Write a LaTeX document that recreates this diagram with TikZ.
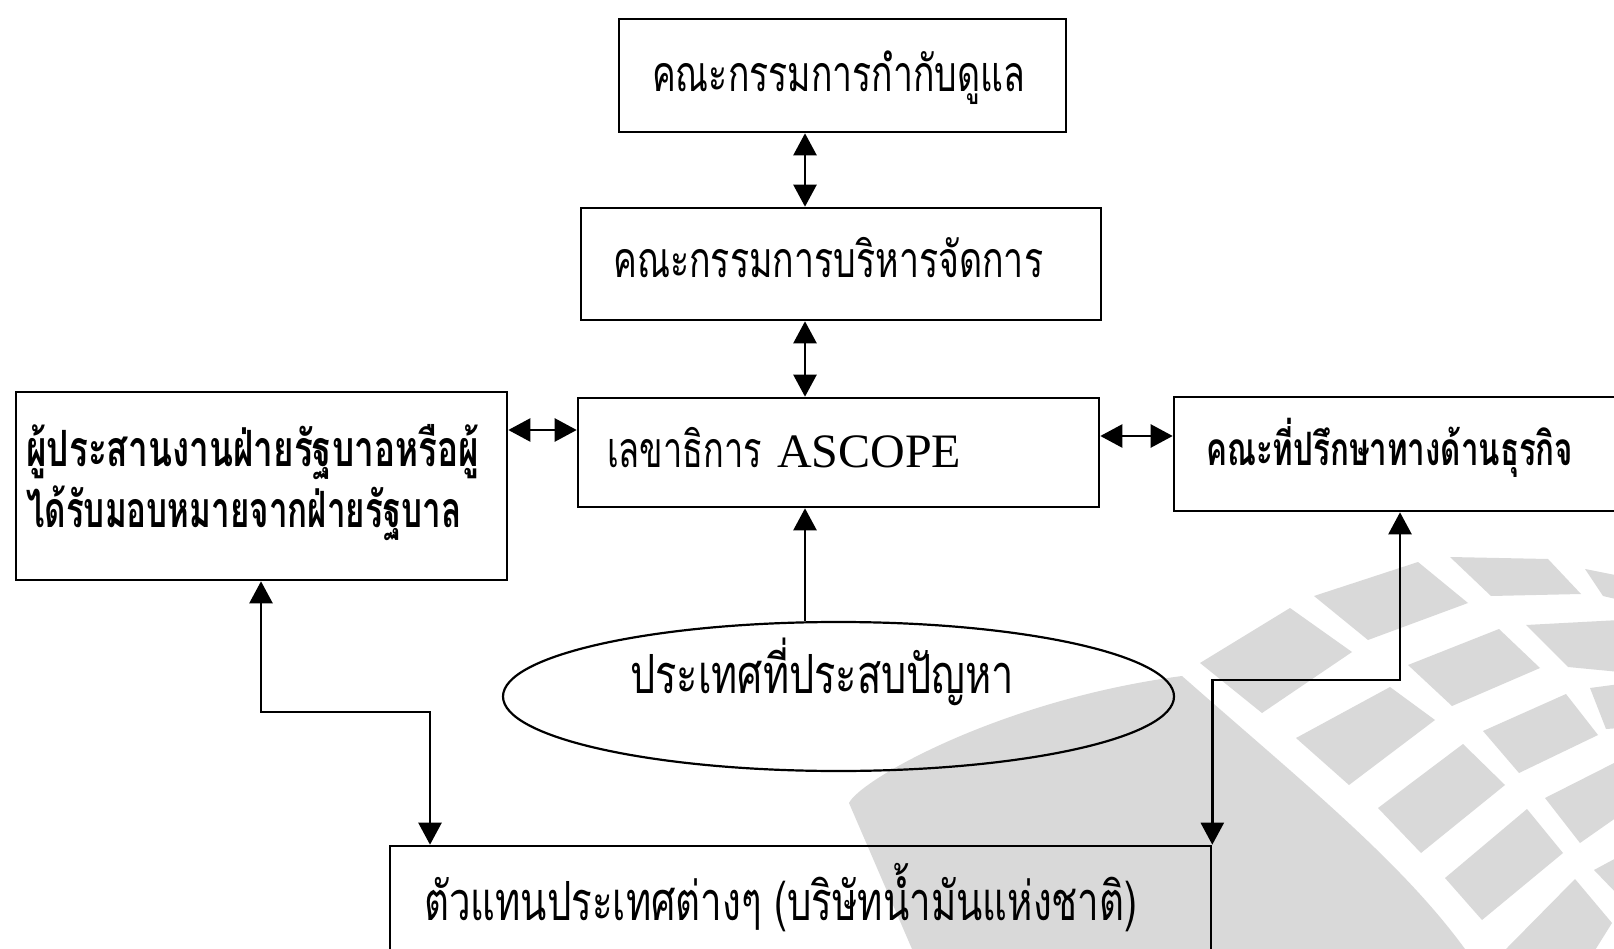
\documentclass[tikz,border=0pt]{standalone}
\usepackage{fontspec}
\usepackage{graphicx}
\usetikzlibrary{arrows.meta,shapes.geometric}
\setmainfont{Liberation Serif}
\newfontfamily\thaifont[Script=Thai]{Loma}
\definecolor{wm}{RGB}{217,217,217}
\newcommand{\fit}[2]{\resizebox{#1}{\height}{#2}}
\begin{document}
\begin{tikzpicture}[x=1pt,y=-1pt,
  box/.style={draw,line width=2.6pt,rectangle,inner sep=0pt},
  oval/.style={draw,line width=2.2pt,ellipse,inner sep=0pt},
  lbl/.style={anchor=base west,inner sep=0pt},
  dbl/.style={line width=2.4pt,{Triangle[length=22pt,width=23pt]}-{Triangle[length=22pt,width=23pt]}},
  sgl/.style={line width=2.4pt,-{Triangle[length=22pt,width=23pt]}},
  cell/.style={fill=wm,draw=none}]
\useasboundingbox (0,0) rectangle (1614,949);
\clip (0,0) rectangle (1614,949);
\fill[white] (0,0) rectangle (1614,949);
% watermark
\fill[wm] (912,949) -- (849,803) .. controls (860,780) and (1000,700) .. (1182,676)
  .. controls (1300,780) and (1400,860) .. (1465,949) -- cycle;
\fill[wm] (1200,663) -- (1290,608) -- (1352,652) -- (1262,713) -- cycle;
\fill[wm] (1314,596) -- (1418,562) -- (1468,603) -- (1368,640) -- cycle;
\fill[wm] (1450,557) -- (1548,559) -- (1581,594) -- (1491,596) -- cycle;
\fill[wm] (1585,569) -- (1620,576) -- (1620,600) -- (1603,596) -- cycle;
\fill[wm] (1296,738) -- (1390,687) -- (1435,720) -- (1349,785) -- cycle;
\fill[wm] (1408,665) -- (1499,629) -- (1540,668) -- (1452,706) -- cycle;
\fill[wm] (1526,625) -- (1620,620) -- (1620,672) -- (1568,667) -- cycle;
\fill[wm] (1378,808) -- (1463,744) -- (1505,785) -- (1421,853) -- cycle;
\fill[wm] (1483,731) -- (1566,694) -- (1598,735) -- (1519,773) -- cycle;
\fill[wm] (1590,688) -- (1620,684) -- (1620,728) -- (1606,729) -- cycle;
\fill[wm] (1445,878) -- (1527,809) -- (1563,853) -- (1482,920) -- cycle;
\fill[wm] (1545,798) -- (1620,760) -- (1620,815) -- (1580,843) -- cycle;
\fill[wm] (1506,949) -- (1575,879) -- (1612,923) -- (1592,955) -- cycle;
\fill[wm] (1594,870) -- (1620,856) -- (1620,897) -- cycle;
% boxes
\node[box,minimum width=447pt,minimum height=113pt] (T) at (842.5,75.5) {};
\node[box,minimum width=520pt,minimum height=112pt] (M) at (841,264) {};
\node[box,minimum width=521pt,minimum height=109pt] (A) at (838.5,452.5) {};
\node[box,minimum width=491pt,minimum height=188pt] (L) at (261.5,486) {};
\node[box,minimum width=526pt,minimum height=114pt] (R) at (1437,454) {};
\node[oval,minimum width=671pt,minimum height=149pt] (E) at (838.5,696.5) {};
\node[box,minimum width=821pt,minimum height=154pt] (B) at (800.5,923) {};
% texts
\node[lbl] (tT) at (652,92) {\thaifont\fontsize{50}{56}\selectfont\fit{373pt}{คณะกรรมการกำกับดูแล}};
\node[lbl] (tM) at (613,278) {\thaifont\fontsize{50}{56}\selectfont\fit{430pt}{คณะกรรมการบริหารจัดการ}};
\node[lbl] (tA) at (607,467) {\thaifont\fontsize{50}{56}\selectfont\fit{155pt}{เลขาธิการ}};
\node[lbl] (tA2) at (777,467) {\fontsize{48}{52}\selectfont ASCOPE};
\node[lbl] (tL1) at (26,466) {\thaifont\bfseries\fontsize{50}{56}\selectfont\fit{453pt}{ผู้ประสานงานฝ่ายรัฐบาอหรือผู้}};
\node[lbl] (tL2) at (26,527) {\thaifont\bfseries\fontsize{50}{56}\selectfont\fit{435pt}{ได้รับมอบหมายจากฝ่ายรัฐบาล}};
\node[lbl] (tR) at (1206,465) {\thaifont\bfseries\fontsize{46}{52}\selectfont\fit{367pt}{คณะที่ปรึกษาทางด้านธุรกิจ}};
\node[lbl] (tE) at (630,693) {\thaifont\fontsize{54}{60}\selectfont\fit{384pt}{ประเทศที่ประสบปัญหา}};
\node[lbl] (tB) at (424,920) {\thaifont\fontsize{54}{60}\selectfont\fit{713pt}{ตัวแทนประเทศต่างๆ (บริษัทน้ำมันแห่งชาติ)}};
% connectors
\coordinate (c1) at (805,0);
\draw[dbl] (T.south -| c1) -- (M.north -| c1);
\draw[dbl] (M.south -| c1) -- (A.north -| c1);
\draw[sgl] (E.north -| c1) -- (A.south -| c1);
\coordinate (h1) at (0,430);
\draw[dbl] (L.east |- h1) -- (A.west |- h1);
\coordinate (h2) at (0,436);
\draw[dbl] (A.east |- h2) -- (R.west |- h2);
\coordinate (k1) at (261,712);
\coordinate (k2) at (430,712);
\draw[dbl,line join=miter] (L.south -| k1) -- (k1) -- (k2) -- (B.north -| k2);
\coordinate (m1) at (1400,680);
\draw[dbl,line join=miter] (R.south -| m1) -- (m1) -| (B.north east);
\end{tikzpicture}
\end{document}
